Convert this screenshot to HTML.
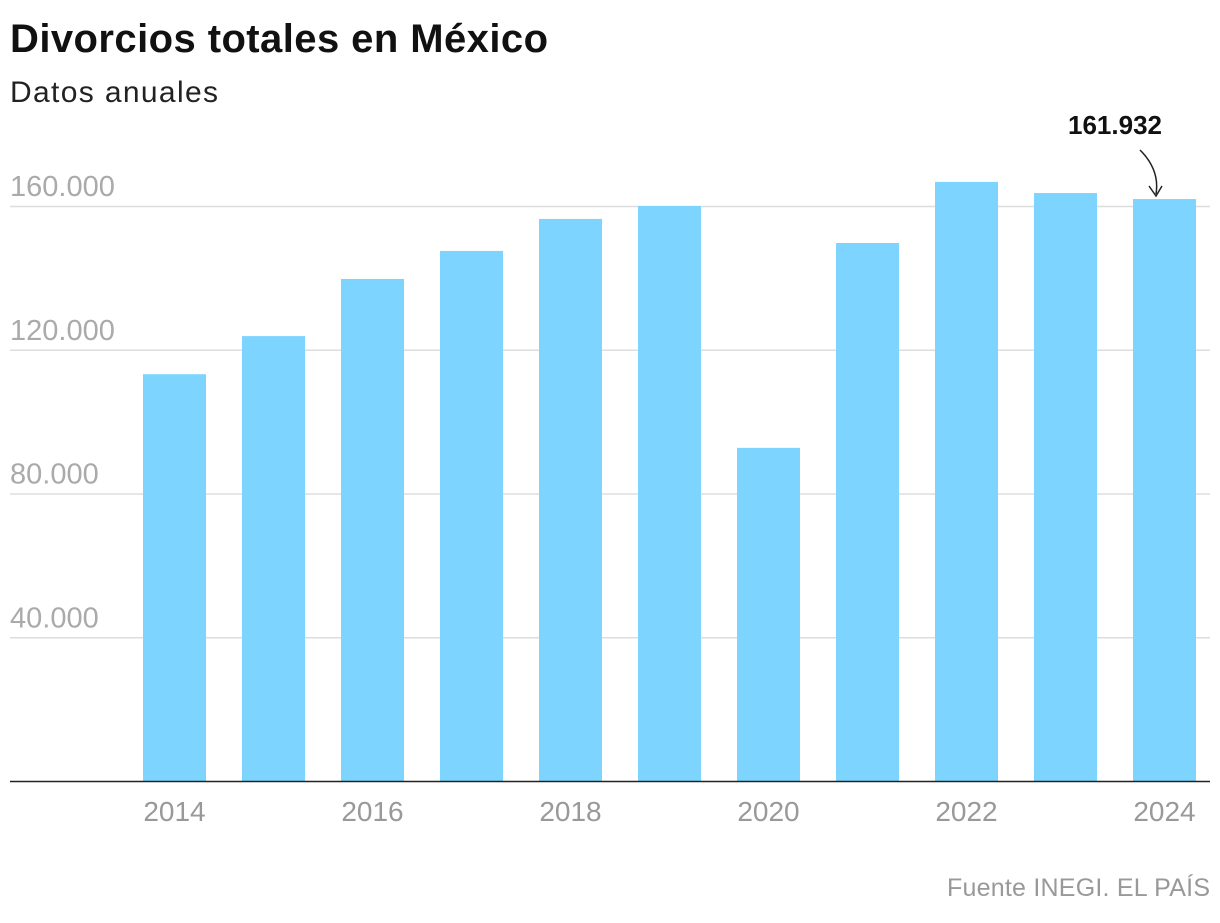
<!DOCTYPE html>
<html><head><meta charset="utf-8"><style>
body{margin:0;background:#fff;width:1220px;height:918px;overflow:hidden;font-family:"Liberation Sans",sans-serif}
</style></head><body>
<svg width="1220" height="918" xmlns="http://www.w3.org/2000/svg">
<text x="10" y="52" font-size="40" font-weight="bold" fill="#111" textLength="538">Divorcios totales en México</text>
<text x="10" y="102" font-size="30" fill="#222" textLength="208">Datos anuales</text>
<g id="grid"></g><g id="bars"></g><g id="xlabels"></g>
<line x1="10" x2="1210" y1="781.5" y2="781.5" stroke="#222" stroke-width="1.5"/>
<text x="1115" y="134" font-size="26" font-weight="bold" text-anchor="middle" fill="#111">161.932</text>
<path d="M1140 150 Q1160 170 1156 194" fill="none" stroke="#222" stroke-width="1.5"/>
<path d="M1149 186 L1156 196 L1162 186" fill="none" stroke="#222" stroke-width="1.5"/>
<text x="1210" y="896" font-size="25" fill="#999" text-anchor="end" textLength="263">Fuente INEGI. EL PAÍS</text>
</svg>
<script>
const years=[2014,2015,2016,2017,2018,2019,2020,2021,2022,2023,2024];
const values=[113200,123800,139700,147500,156400,160000,92700,149700,166700,163600,161932];
const yTicks=[40000,80000,120000,160000];
const yTickLabels=["40.000","80.000","120.000","160.000"];
const ns="http://www.w3.org/2000/svg";
const y=v=>781-v*575/160000;
const x=i=>174.5+i*99;
const g=document.getElementById('grid'),b=document.getElementById('bars'),xl=document.getElementById('xlabels');
function mk(t,a,p){const e=document.createElementNS(ns,t);for(const k in a)e.setAttribute(k,a[k]);p.appendChild(e);return e;}
yTicks.forEach((t,i)=>{
 const l=mk('line',{x1:10,x2:1210,y1:y(t)+0.5,y2:y(t)+0.5,stroke:'#ddd','stroke-width':1.5},g);
 
 
 const tx=mk('text',{x:10,y:y(t)-10,'font-size':29,fill:'#aaa'},g);
 tx.textContent=yTickLabels[i];
 
 
});
values.forEach((v,i)=>{
 const r=mk('rect',{x:x(i)-31.5,y:y(v),width:63,height:781-y(v),fill:'#7dd4ff'},b);
 
 
 if(i%2===0){
  const t=mk('text',{x:x(i),y:821,'font-size':28,fill:'#999','text-anchor':'middle'},xl);
  t.textContent=years[i];
  
  
 }
});
</script>
</body></html>
